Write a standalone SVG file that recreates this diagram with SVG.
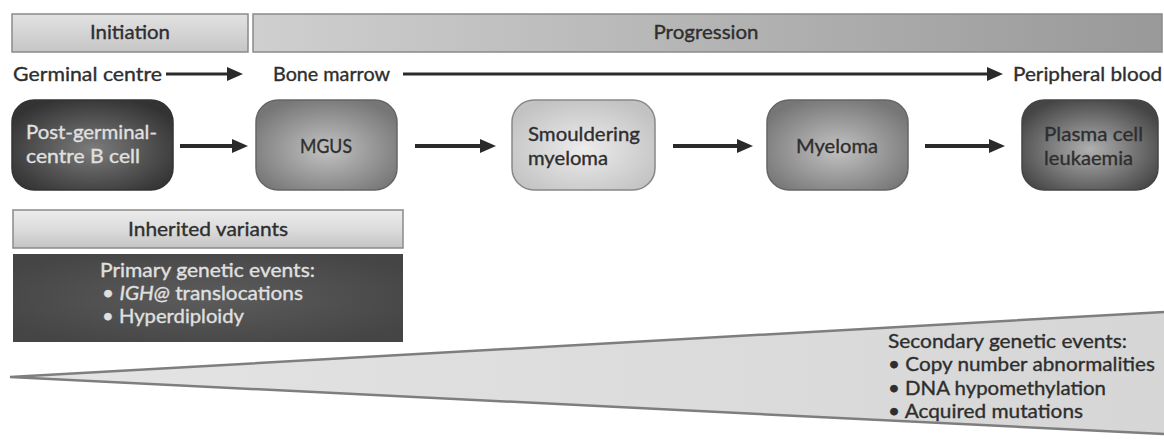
<svg xmlns="http://www.w3.org/2000/svg" width="1164" height="441" viewBox="0 0 1164 441">
<style>
text{font-family:Lato,"Liberation Sans",sans-serif;font-size:20px;fill:#2e2e2e;stroke:#2e2e2e;stroke-width:0.35}
.lt{fill:#e0e0e0;stroke:#e0e0e0}
.mid{text-anchor:middle}
.bar{stroke:#8a8a8a;stroke-width:1.5}
.node{stroke-width:1.5}
.arr{stroke:#2a2a2a;stroke-width:4;fill:none}
.arr3{stroke:#2a2a2a;stroke-width:3.2;fill:none}
</style>
<defs>
<marker id="ah" markerUnits="userSpaceOnUse" markerWidth="16" markerHeight="14" refX="4" refY="7" orient="auto">
<path d="M0,0 L16,7 L0,14 z" fill="#2a2a2a"/>
</marker>
<linearGradient id="gInit" x1="0" y1="0" x2="0" y2="1"><stop offset="0" stop-color="#e2e2e2"/><stop offset="1" stop-color="#c6c6c6"/></linearGradient>
<linearGradient id="gProg" x1="0" y1="0" x2="1" y2="0"><stop offset="0" stop-color="#cfcfcf"/><stop offset="1" stop-color="#999"/></linearGradient>
<linearGradient id="gInh" x1="0" y1="0" x2="0" y2="1"><stop offset="0" stop-color="#ececec"/><stop offset="0.5" stop-color="#dcdcdc"/><stop offset="1" stop-color="#c4c4c4"/></linearGradient>
<radialGradient id="gDarkBox" cx="0.5" cy="0.5" r="0.6"><stop offset="0" stop-color="#5c5c5c"/><stop offset="1" stop-color="#454545"/></radialGradient>
<radialGradient id="gN1" cx="0.5" cy="0.55" r="0.6"><stop offset="0" stop-color="#7c7c7c"/><stop offset="1" stop-color="#333"/></radialGradient>
<radialGradient id="gN2" cx="0.5" cy="0.55" r="0.6"><stop offset="0" stop-color="#c2c2c2"/><stop offset="1" stop-color="#767676"/></radialGradient>
<radialGradient id="gN3" cx="0.5" cy="0.55" r="0.6"><stop offset="0" stop-color="#ececec"/><stop offset="1" stop-color="#c2c2c2"/></radialGradient>
<radialGradient id="gN5" cx="0.5" cy="0.55" r="0.6"><stop offset="0" stop-color="#b0b0b0"/><stop offset="1" stop-color="#454545"/></radialGradient>
<linearGradient id="gTri" x1="0" y1="0" x2="1" y2="0"><stop offset="0" stop-color="#e4e4e4"/><stop offset="1" stop-color="#d6d6d6"/></linearGradient>
</defs>
<rect width="1164" height="441" fill="#fff"/>

<g id="initiation">
<rect class="bar" x="12" y="14" width="236" height="38" fill="url(#gInit)"/>
<text class="mid" x="130" y="39" font-size="19" textLength="80" lengthAdjust="spacingAndGlyphs">Initiation</text>
</g>
<g id="progression">
<rect class="bar" x="253" y="14" width="909" height="38" fill="url(#gProg)"/>
<text class="mid" x="706" y="39" font-size="19" textLength="105" lengthAdjust="spacingAndGlyphs">Progression</text>
</g>

<g id="germinal-centre"><text x="13" y="81" textLength="149" lengthAdjust="spacingAndGlyphs">Germinal centre</text></g>
<g id="bone-marrow"><text x="273" y="81" textLength="117" lengthAdjust="spacingAndGlyphs">Bone marrow</text></g>
<g id="peripheral-blood"><text x="1013" y="81" textLength="149" lengthAdjust="spacingAndGlyphs">Peripheral blood</text></g>

<g id="post-germinal">
<rect class="node" x="12" y="100" width="161" height="90" rx="22" fill="url(#gN1)" stroke="#333"/>
<text class="lt" x="26" y="139" textLength="131" lengthAdjust="spacingAndGlyphs">Post-germinal-</text>
<text class="lt" x="26" y="163" textLength="114" lengthAdjust="spacingAndGlyphs">centre B cell</text>
</g>
<g id="mgus">
<rect class="node" x="256" y="100" width="141" height="90" rx="22" fill="url(#gN2)" stroke="#666"/>
<text class="mid" x="326" y="153" font-size="19" textLength="52" lengthAdjust="spacingAndGlyphs">MGUS</text>
</g>
<g id="smouldering">
<rect class="node" x="512" y="100" width="143" height="90" rx="22" fill="url(#gN3)" stroke="#888"/>
<text x="528" y="141" textLength="112" lengthAdjust="spacingAndGlyphs">Smouldering</text>
<text x="528" y="165" textLength="80" lengthAdjust="spacingAndGlyphs">myeloma</text>
</g>
<g id="myeloma">
<rect class="node" x="767" y="100" width="141" height="90" rx="22" fill="url(#gN2)" stroke="#666"/>
<text class="mid" x="837" y="153" textLength="82" lengthAdjust="spacingAndGlyphs">Myeloma</text>
</g>
<g id="plasma-cell-leukaemia">
<rect class="node" x="1022" y="100" width="136" height="90" rx="22" fill="url(#gN5)" stroke="#444"/>
<text x="1044" y="141" textLength="99" lengthAdjust="spacingAndGlyphs">Plasma cell</text>
<text x="1044" y="165" textLength="89" lengthAdjust="spacingAndGlyphs">leukaemia</text>
</g>

<g id="inherited-variants">
<rect class="bar" x="13" y="210" width="390" height="38" fill="url(#gInh)"/>
<text class="mid" x="208" y="236" font-size="19" textLength="160" lengthAdjust="spacingAndGlyphs">Inherited variants</text>
</g>
<g id="primary-events">
<rect x="13" y="254" width="390" height="88" fill="url(#gDarkBox)"/>
<text class="lt" x="100" y="277" textLength="215" lengthAdjust="spacingAndGlyphs">Primary genetic events:</text>
<text class="lt" x="102" y="300" textLength="201" lengthAdjust="spacingAndGlyphs">• <tspan font-style="italic">IGH@</tspan> translocations</text>
<text class="lt" x="102" y="323" textLength="142" lengthAdjust="spacingAndGlyphs">• Hyperdiploidy</text>
</g>

<g id="secondary-events">
<polygon points="10,377 1164,312 1164,434" fill="url(#gTri)"/>
<polyline points="1164,312 10,377 1164,434" fill="none" stroke="#7e7e7e" stroke-width="2.5" stroke-linejoin="miter"/>
<text x="888" y="348" textLength="239" lengthAdjust="spacingAndGlyphs">Secondary genetic events:</text>
<text x="888" y="371" textLength="267" lengthAdjust="spacingAndGlyphs">• Copy number abnormalities</text>
<text x="888" y="395" textLength="218" lengthAdjust="spacingAndGlyphs">• DNA hypomethylation</text>
<text x="888" y="418" textLength="195" lengthAdjust="spacingAndGlyphs">• Acquired mutations</text>
</g>

<g id="connectors">
<line class="arr3" x1="166" y1="74" x2="231" y2="74" marker-end="url(#ah)"/>
<line class="arr3" x1="403" y1="74" x2="991" y2="74" marker-end="url(#ah)"/>
<line class="arr" x1="180" y1="146" x2="236" y2="146" marker-end="url(#ah)"/>
<line class="arr" x1="415" y1="146" x2="484" y2="146" marker-end="url(#ah)"/>
<line class="arr" x1="673" y1="146" x2="741" y2="146" marker-end="url(#ah)"/>
<line class="arr" x1="925" y1="146" x2="993" y2="146" marker-end="url(#ah)"/>
</g>
</svg>
